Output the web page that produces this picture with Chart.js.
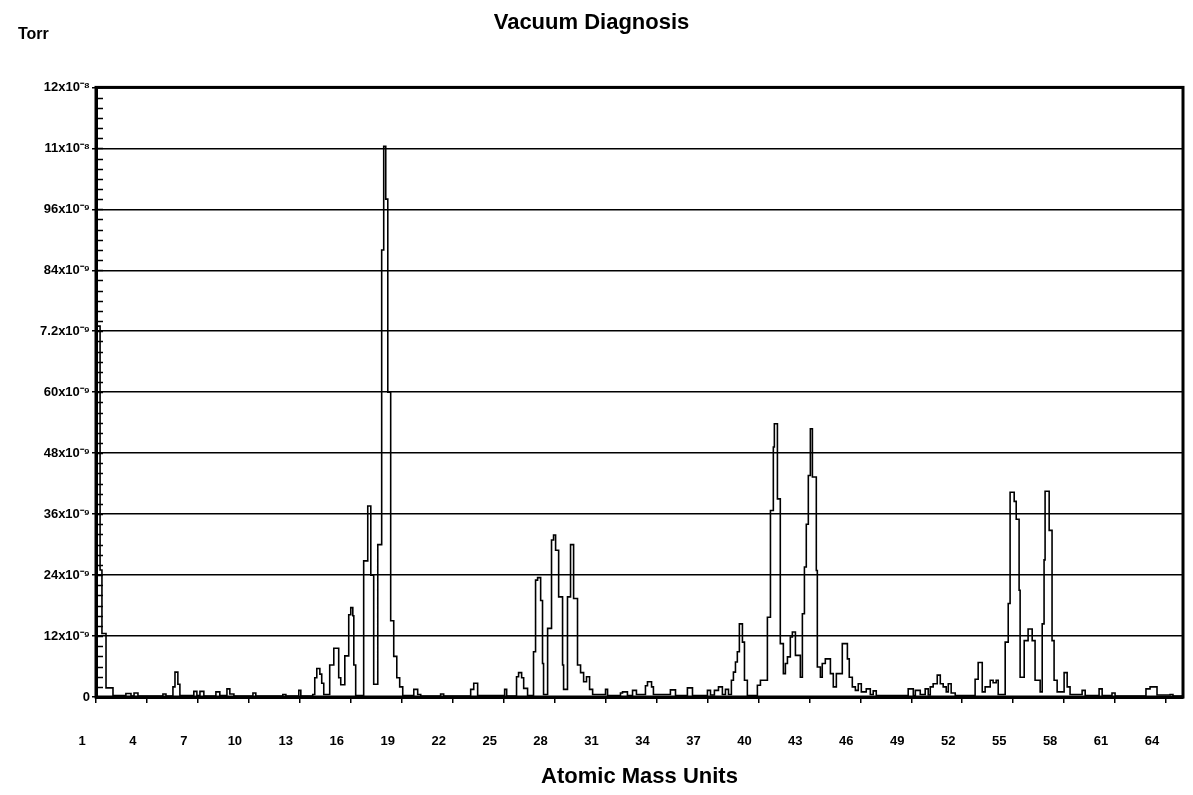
<!DOCTYPE html>
<html>
<head>
<meta charset="utf-8">
<script src="https://cdn.jsdelivr.net/npm/chart.js@4.4.1/dist/chart.umd.min.js"></script>
<style>
html,body{margin:0;padding:0;background:#fff;overflow:hidden;}
#wrap{width:1193px;height:795px;position:relative;}
#c{display:block;}
</style>
</head>
<body>
<div id="wrap"><canvas id="c"></canvas></div>
<script>
// ---- text ----
const chartTitle = 'Vacuum Diagnosis';
const yUnitLabel = 'Torr';
const xAxisTitle = 'Atomic Mass Units';

// ---- axes ----
const xTickValues = [1,4,7,10,13,16,19,22,25,28,31,34,37,40,43,46,49,52,55,58,61,64];
const yTickValues = [0,12,24,36,48,60,72,84,96,108,120];
const yTickLabels = ['0','12x10\u207B\u2079','24x10\u207B\u2079','36x10\u207B\u2079','48x10\u207B\u2079','60x10\u207B\u2079','7.2x10\u207B\u2079','84x10\u207B\u2079','96x10\u207B\u2079','11x10\u207B\u2078','12x10\u207B\u2078'];
const yMinorStep = 2;

// ---- series: mass (amu) where each level starts, and pressure level (x10^-9 Torr) ----
const massStarts = [
 1.00,1.24,1.35,1.59,2.00,2.76,3.06,3.24,3.47,4.94,5.12,5.53,5.65,5.82,5.94,6.76,6.94,7.12,7.35,8.06,
 8.29,8.71,8.88,9.12,10.24,10.41,12.00,12.18,12.94,13.06,13.76,13.88,14.00,14.18,14.29,14.41,14.76,15.00,15.29,15.41,
 15.65,15.88,16.00,16.12,16.18,16.29,16.76,17.00,17.18,17.35,17.59,17.82,17.94,18.06,18.18,18.35,18.53,18.71,18.88,19.06,
 19.71,19.94,20.12,21.29,21.47,23.06,23.24,23.47,25.06,25.18,25.76,25.88,26.06,26.18,26.41,26.76,26.88,27.00,27.18,27.29,
 27.35,27.59,27.82,27.94,28.06,28.24,28.47,28.53,28.76,28.94,29.12,29.35,29.53,29.71,29.88,30.06,30.24,31.00,31.12,31.88,
 32.00,32.29,32.59,32.82,33.35,33.47,33.71,33.82,34.82,35.12,35.82,36.12,37.00,37.18,37.41,37.65,37.88,38.06,38.24,38.41,
 38.53,38.65,38.76,38.88,39.06,39.18,39.35,39.94,40.12,40.53,40.71,40.88,40.94,41.12,41.29,41.47,41.59,41.71,41.88,42.00,
 42.18,42.47,42.59,42.71,42.82,42.94,43.06,43.18,43.41,43.47,43.65,43.76,43.94,44.24,44.41,44.59,44.94,45.24,45.35,45.53,
 45.71,45.88,46.06,46.35,46.59,46.76,46.94,48.82,49.12,49.24,49.53,49.82,50.00,50.12,50.29,50.53,50.71,50.88,51.06,51.18,
 51.35,51.59,52.76,52.94,53.18,53.35,53.65,53.82,54.00,54.12,54.53,54.71,54.82,55.06,55.18,55.35,55.41,55.65,55.88,56.12,
 56.29,56.59,56.71,56.82,56.88,57.12,57.29,57.41,57.59,58.00,58.18,58.35,59.06,59.24,60.06,60.24,60.82,61.00,62.82,63.06,
 63.47,64.24,64.41,65.00
];
const torrLevels = [
 73,25,12.5,1.8,0.3,0.7,0.2,0.8,0.2,0.6,0.2,2.0,4.9,2.5,0.3,1.1,0.3,1.1,0.2,1.0,
 0.3,1.6,0.6,0.2,0.8,0.2,0.5,0.2,1.3,0.2,0.5,3.8,5.6,4.5,2.7,0.5,6.3,9.6,3.8,2.4,
 8.1,16.2,17.6,16.0,6.3,0.3,26.8,37.6,24.0,2.5,30.0,88.0,108.4,98.0,60.0,15.0,8.0,3.8,2.0,0.3,
 1.5,0.5,0.2,0.6,0.2,1.5,2.7,0.3,1.5,0.2,4.0,4.8,3.8,1.7,0.3,8.9,23.0,23.5,19.0,6.6,
 0.5,13.5,30.9,31.9,28.9,19.7,6.3,1.5,19.7,30.0,19.4,6.3,4.8,3.0,4.0,1.5,0.5,1.5,0.3,0.8,
 1.0,0.3,1.3,0.5,2.2,3.0,2.0,0.5,1.4,0.3,1.8,0.3,1.3,0.4,1.3,2.0,0.5,1.5,0.5,3.3,
 4.9,6.9,8.9,14.4,10.8,3.3,0.3,2.3,3.3,15.7,36.7,49.2,53.8,39.0,10.5,4.6,6.6,7.9,11.8,12.8,
 8.2,3.9,16.4,25.6,34.0,43.6,52.8,43.3,24.9,5.9,3.9,6.6,7.5,4.6,2.0,4.6,10.5,7.5,3.9,2.0,
 1.3,2.6,1.0,1.6,0.5,1.2,0.3,1.6,0.3,1.3,0.5,1.6,0.4,2.0,2.6,4.3,2.6,2.0,1.0,2.6,
 0.8,0.3,3.5,6.8,1.0,2.0,3.3,2.8,3.3,0.5,10.8,18.4,40.3,38.5,35.0,21.0,3.9,11.1,13.4,11.1,
 3.3,1.0,14.4,27.0,40.5,32.8,11.1,3.3,1.0,4.8,2.0,0.5,1.3,0.3,1.6,0.3,0.8,0.2,1.6,2.0,
 0.4,0.5,0.2,0.2
];

const FONT = "'Liberation Sans', Arial, Helvetica, sans-serif";

const framePlugin = {
  id: 'frameAndMinorTicks',
  afterDatasetsDraw(chart) {
    const {ctx, chartArea: a, scales: {y}} = chart;
    ctx.save();
    ctx.strokeStyle = '#000';
    ctx.lineWidth = 1.5;
    for (let v = y.min; v <= y.max; v += yMinorStep) {
      const py = Math.round(y.getPixelForValue(v)) + 0.5;
      ctx.beginPath();
      ctx.moveTo(a.left, py);
      ctx.lineTo(a.left + 7, py);
      ctx.stroke();
    }
    ctx.lineWidth = 3;
    ctx.strokeRect(a.left, a.top, a.right - a.left, a.bottom - a.top);
    ctx.restore();
  },
  afterDraw(chart) {
    const ctx = chart.ctx;
    ctx.save();
    ctx.fillStyle = '#000';
    ctx.font = 'bold 16px ' + FONT;
    ctx.textAlign = 'left';
    ctx.textBaseline = 'alphabetic';
    ctx.fillText(yUnitLabel, 18, 39);
    ctx.restore();
  }
};

const points = massStarts.map((m, i) => ({x: m, y: torrLevels[i]}));

new Chart(document.getElementById('c'), {
  type: 'line',
  data: {
    datasets: [{
      data: points,
      borderColor: '#000',
      borderWidth: 1.6,
      pointRadius: 0,
      fill: false,
      stepped: true,
      tension: 0
    }]
  },
  options: {
    responsive: true,
    maintainAspectRatio: false,
    animation: false,
    events: [],
    layout: {padding: {left: 0, right: 10, top: 0, bottom: 0}},
    plugins: {
      legend: {display: false},
      tooltip: {enabled: false},
      title: {
        display: true,
        text: chartTitle,
        color: '#000',
        font: {family: FONT, size: 22, weight: 'bold'},
        padding: {top: 10, bottom: 51}
      }
    },
    scales: {
      x: {
        type: 'linear',
        min: 1,
        max: 65,
        afterBuildTicks: s => { s.ticks = xTickValues.map(v => ({value: v})); },
        afterFit: s => { s.height = 98; s.paddingLeft = 0; s.paddingRight = 0; },
        grid: {drawOnChartArea: false, drawTicks: true, tickLength: 6, color: '#000', lineWidth: 1.5},
        border: {display: true, color: '#000', width: 3},
        ticks: {
          autoSkip: false, maxRotation: 0, minRotation: 0,
          padding: 31, labelOffset: -14,
          color: '#000', font: {family: FONT, size: 13, weight: 'bold'},
          callback: v => String(v)
        },
        title: {
          display: true, text: xAxisTitle, color: '#000',
          font: {family: FONT, size: 22, weight: 'bold'},
          padding: {top: 0, bottom: 5}
        }
      },
      y: {
        type: 'linear',
        min: 0,
        max: 120,
        afterBuildTicks: s => { s.ticks = yTickValues.map(v => ({value: v})); },
        afterFit: s => { s.width = 96; },
        grid: {color: '#000', lineWidth: 1.5, drawTicks: true, tickLength: 4},
        border: {display: true, color: '#000', width: 3},
        ticks: {
          padding: 2,
          color: '#000', font: {family: FONT, size: 13, weight: 'bold'},
          callback: v => yTickLabels[yTickValues.indexOf(v)]
        }
      }
    }
  },
  plugins: [framePlugin]
});
</script>
</body>
</html>
